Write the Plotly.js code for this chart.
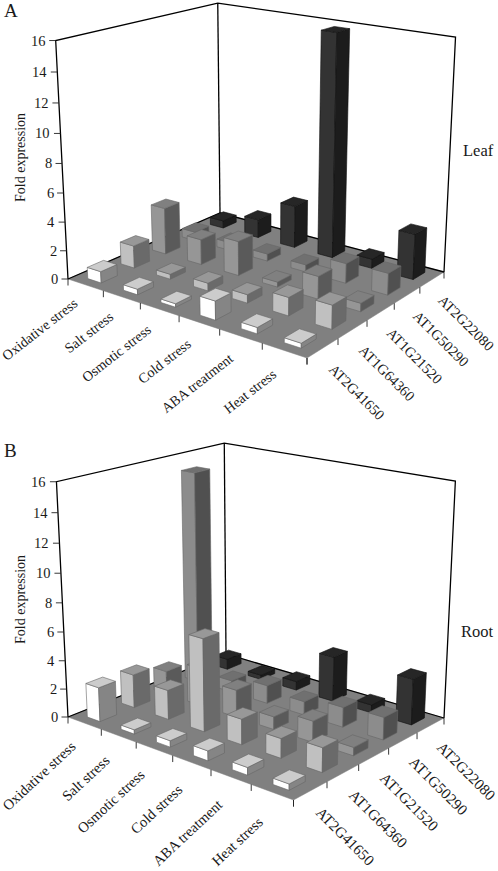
<!DOCTYPE html>
<html><head><meta charset="utf-8"><script src="https://cdn.plot.ly/plotly-3.0.1.min.js"></script>
<style>html,body{margin:0;padding:0;background:#fff}#g{width:498px;height:871px}</style></head>
<body><div id="g"></div>
<script>
const stresses=["Oxidative stress","Salt stress","Osmotic stress","Cold stress","ABA treatment","Heat stress"];
const genes=["AT2G41650","AT1G64360","AT1G21520","AT1G50290","AT2G22080"];
const zTicks=[0,2,4,6,8,10,12,14,16];
const leafAT2G41650=[0.8,0.39,0.24,1.28,0.42,0.32];
const leafAT1G64360=[1.59,0.35,0.54,0.58,1.24,1.59];
const leafAT1G21520=[3.35,1.8,2.42,0.35,1.56,0.57];
const leafAT1G50290=[0.64,0.58,0.52,0.51,1.39,1.51];
const leafAT2G22080=[0.55,1.35,3.06,15.75,0.66,3.19];
const rootAT2G41650=[2.4,0.3,0.44,0.67,0.51,0.41];
const rootAT1G64360=[2.36,2.06,6.4,1.75,1.33,1.64];
const rootAT1G21520=[1.68,2.67,1.92,0.89,1.46,0.57];
const rootAT1G50290=[15.1,0.84,1.29,0.96,1.39,1.56];
const rootAT2G22080=[0.77,0.32,0.63,3.2,0.56,3.2];
// front, top, right face colours per gene row
const faceColors=[["#ffffff","#cccccc","#858585"],["#c0c0c0","#989898","#6a6a6a"],["#969696","#808080","#5a5a5a"],["#8c8c8c","#707070","#505050"],["#333333","#262626","#1c1c1c"]];
const serif="Liberation Serif",ink="#1a1a1a";
const traces=[],annotations=[];

// Perspective camera of one panel, from where the box corners fall on the page.
function camera(c){
  const [x0,y0]=c.L,[x1,y1]=c.F,[x2,y2]=c.R,[x3,y3]=c.K;
  const dx1=x1-x2,dx2=x3-x2,sx=x0-x1+x2-x3,dy1=y1-y2,dy2=y3-y2,sy=y0-y1+y2-y3,den=dx1*dy2-dx2*dy1;
  const g=(sx*dy2-dx2*sy)/den,h=(dx1*sy-sx*dy1)/den;
  const a=x1-x0+g*x1,b=x3-x0+h*x3,d=y1-y0+g*y1,e=y3-y0+h*y3;
  // least squares for the height column from the three top corners
  const M=[[0,0,0],[0,0,0],[0,0,0]],V=[0,0,0];
  const add=(r,val)=>{for(let p=0;p<3;p++){V[p]+=r[p]*val;for(let q=0;q<3;q++)M[p][q]+=r[p]*r[q];}};
  [[0,0,c.Lt],[0,1,c.Kt],[1,1,c.Rt]].forEach(([u,v,[x,y]])=>{
    const X=a*u+b*v+x0,Y=d*u+e*v+y0,W=g*u+h*v+1;
    add([1,0,-x],x*W-X);add([0,1,-y],y*W-Y);
  });
  for(let p=0;p<3;p++){for(let q=p+1;q<3;q++){const m=M[q][p]/M[p][p];for(let r=p;r<3;r++)M[q][r]-=m*M[p][r];V[q]-=m*V[p];}}
  const S=[0,0,0];
  for(let p=2;p>=0;p--){let s=V[p];for(let q=p+1;q<3;q++)s-=M[p][q]*S[q];S[p]=s/M[p][p];}
  return (i,j,z)=>{const u=i/6,v=j/5,t=z/16,W=g*u+h*v+1+t*S[2];return [(a*u+b*v+x0+t*S[0])/W,(d*u+e*v+y0+t*S[1])/W];};
}
function poly(pts,fill,line,width,name){
  traces.push({type:"scatter",mode:"lines",x:pts.map(p=>p[0]).concat(fill?[pts[0][0]]:[]),y:pts.map(p=>p[1]).concat(fill?[pts[0][1]]:[]),
    fill:fill?"toself":"none",fillcolor:fill||undefined,line:{color:line,width:width},hoverinfo:name?"text":"skip",text:name,showlegend:false});
}
function panel(name,rows,c){
  const P=camera(c),hx=.19,hy=.24;
  poly([P(0,0,0),P(6,0,0),P(6,5,0),P(0,5,0)],"#808080","#808080",.5);
  poly([P(0,0,0),P(0,5,0),P(6,5,0)],null,"#000",1.3);
  poly([P(0,0,0),P(0,0,16),P(0,5,16),P(6,5,16),P(6,5,0)],null,"#000",1.3);
  poly([P(0,5,0),P(0,5,16)],null,"#000",1.3);
  for(let j=4;j>=0;j--){
    rows[j].forEach((h,i)=>{
      const x0=i+.5-hx,x1=i+.5+hx,y0=j+.5-hy,y1=j+.5+hy,[cF,cT,cR]=faceColors[j];
      const edge=j===4?"#111":"#666",label=name+", "+genes[j]+", "+stresses[i]+": "+h;
      poly([P(x0,y0,0),P(x1,y0,0),P(x1,y0,h),P(x0,y0,h)],cF,edge,.6,label);
      poly([P(x1,y0,0),P(x1,y1,0),P(x1,y1,h),P(x1,y0,h)],cR,edge,.6,label);
      poly([P(x0,y0,h),P(x1,y0,h),P(x1,y1,h),P(x0,y1,h)],cT,edge,.6,label);
    });
  }
  const txt=(p,t,o)=>annotations.push(Object.assign({x:p[0],y:p[1],xref:"x",yref:"y",text:t,showarrow:false,font:{family:serif,size:14.5,color:ink}},o));
  zTicks.forEach(v=>{
    const p=P(0,0,v),q=[p[0]-6.5,p[1]];
    poly([p,q],null,"#222",.9);
    txt([q[0]-1.5,q[1]],String(v),{xanchor:"right",yanchor:"middle"});
  });
  for(let i=0;i<=6;i++){const p=P(i,0,0);poly([p,[p[0],p[1]+6.5]],null,"#222",.9);}
  for(let j=0;j<=5;j++){const p=P(6,j,0);poly([p,[p[0],p[1]+6.5]],null,"#222",.9);}
  stresses.forEach((t,i)=>{const p=P(i+.5,0,0);txt([p[0]+c.sOff[0],p[1]+c.sOff[1]+i*c.sOff[2]],t,{textangle:c.sAngle,xanchor:"right",yanchor:"top",font:{family:serif,size:c.sSize,color:ink}});});
  genes.forEach((t,j)=>{const p=P(6,j+.5,0);txt([p[0],p[1]+10],t,{textangle:45,xanchor:"left",yanchor:"top",font:{family:serif,size:c.gSize,color:ink}});});
  txt(c.side,name,{xanchor:"left",yanchor:"middle",font:{family:serif,size:16.5,color:ink}});
  txt(c.letter[0],c.letter[1],{xanchor:"left",yanchor:"middle",font:{family:serif,size:19,color:ink}});
  txt(c.ytitle,"Fold expression",{textangle:-90,font:{family:serif,size:14,color:ink}});
}
panel("Leaf",[leafAT2G41650,leafAT1G64360,leafAT1G21520,leafAT1G50290,leafAT2G22080],
  {L:[68,279],F:[307,358],R:[444,272],K:[220,213],Lt:[56,42],Kt:[217.5,2],Rt:[455.5,37],side:[461,150],letter:[[2,10],"A"],ytitle:[20,158],
   sOff:[-2,7,1.1],sAngle:-38,sSize:14.2,gSize:14.5});
panel("Root",[rootAT2G41650,rootAT1G64360,rootAT1G21520,rootAT1G50290,rootAT2G22080],
  {L:[68,717],F:[293.5,800],R:[444,718],K:[226,654],Lt:[56,481.5],Kt:[225,443],Rt:[455,481.5],side:[459,631],letter:[[2,450],"B"],ytitle:[20,600],
   sOff:[-3,12,1.2],sAngle:-43,sSize:14.6,gSize:15.2});
Plotly.newPlot("g",traces,{width:498,height:871,margin:{l:0,r:0,t:0,b:0},paper_bgcolor:"#fff",plot_bgcolor:"#fff",showlegend:false,
  xaxis:{range:[0,498],visible:false,fixedrange:true},yaxis:{range:[871,0],visible:false,fixedrange:true},annotations:annotations},{displayModeBar:false});
</script></body></html>
